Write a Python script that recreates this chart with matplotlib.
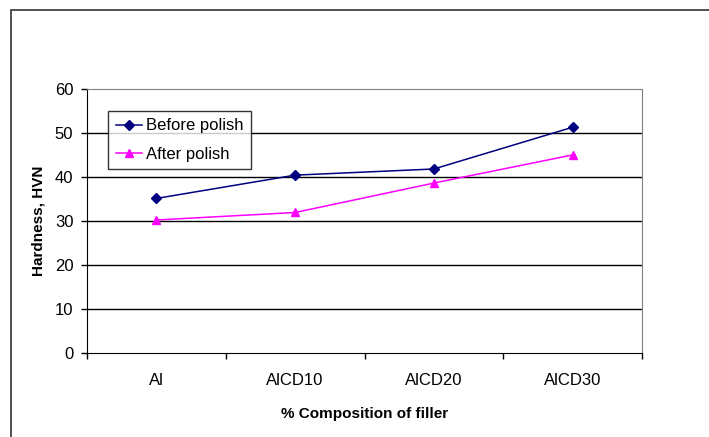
import matplotlib.pyplot as plt
from matplotlib.patches import Rectangle

# data
categories = ['Al', 'AlCD10', 'AlCD20', 'AlCD30']
before_polish = [35.1, 40.4, 41.8, 51.3]
after_polish = [30.2, 31.9, 38.6, 45.0]
y_ticks = [0, 10, 20, 30, 40, 50, 60]

plt.rcParams['font.family'] = ['Liberation Sans', 'DejaVu Sans']
plt.rcParams['font.size'] = 12

fig = plt.figure(figsize=(7.09, 4.37), dpi=100)

# outer chart border (top/left visible, rest runs off the picture)
fig.patches.append(Rectangle((11 / 709, -0.1), 1.2, 1 - 10 / 437 + 0.1,
                             transform=fig.transFigure, fill=False,
                             edgecolor='#333333', linewidth=1.2))

ax = fig.add_axes([87 / 709, 1 - 352.7 / 437, 555 / 709, 263.7 / 437])

x = list(range(len(categories)))
ax.plot(x, before_polish, color='#000080', marker='D', markersize=5,
        linewidth=1.1, label='Before polish')
ax.plot(x, after_polish, color='#FF00FF', marker='^', markersize=6,
        linewidth=1.1, label='After polish')

ax.set_xlim(-0.5, 3.5)
ax.set_ylim(0, 60)
ax.set_yticks(y_ticks)
ax.set_xticks([i - 0.5 for i in range(len(categories) + 1)], minor=False)
ax.set_xticklabels([])
ax.set_xticks(x, minor=True)
ax.set_xticklabels(categories, minor=True)
ax.tick_params(axis='x', which='minor', length=0, pad=14.5)
ax.tick_params(axis='x', which='major', length=4, direction='out', width=1)
ax.tick_params(axis='y', length=4.3, direction='out', width=1, pad=5.5)

for yv in y_ticks[1:-1]:
    ax.axhline(yv, color='black', linewidth=1, zorder=0)

ax.spines['top'].set_color('#808080')
ax.spines['right'].set_color('#808080')
ax.spines['left'].set_color('black')
ax.spines['bottom'].set_color('black')

ax.set_xlabel('% Composition of filler', fontweight='bold', fontsize=11,
              labelpad=13.5)
ax.set_ylabel('Hardness, HVN', fontweight='bold', fontsize=11, labelpad=6.5)

leg = ax.legend(loc='upper left', bbox_to_anchor=(21 / 555, 1 - 22 / 263.7),
                frameon=True, fancybox=False, edgecolor='black',
                handlelength=1.6, handletextpad=0.25, borderpad=0.45,
                labelspacing=0.8, borderaxespad=0, fontsize=12)
leg.get_frame().set_linewidth(1)

plt.savefig('out.png', dpi=100)
